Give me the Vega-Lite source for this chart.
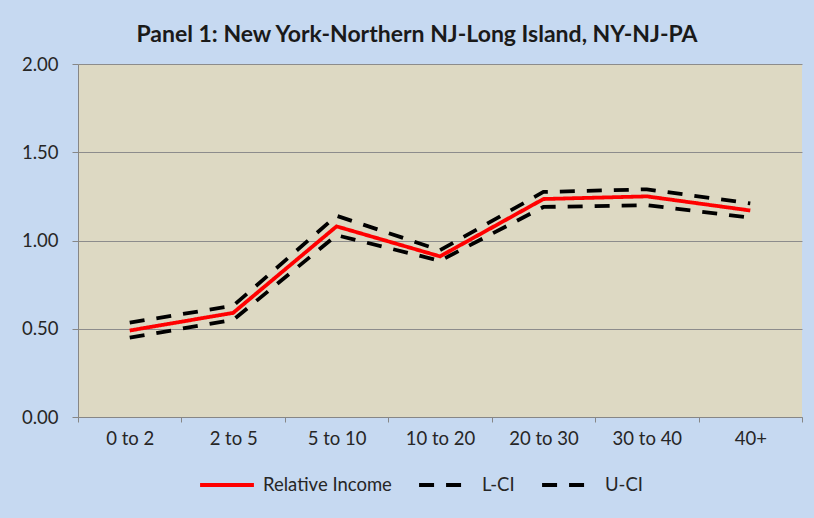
{
  "$schema": "https://vega.github.io/schema/vega-lite/v6.json",
  "width": 724,
  "height": 353,
  "autosize": "none",
  "padding": {"left": 78, "top": 64, "right": 12, "bottom": 101},
  "background": "#c6d9f1",
  "title": {
    "text": "Panel 1: New York-Northern NJ-Long Island, NY-NJ-PA",
    "font": "Lato",
    "fontSize": 23,
    "fontWeight": "bold",
    "color": "#1a1a1a",
    "anchor": "middle",
    "dx": -23,
    "offset": 8
  },
  "data": {
    "values": [
      {"range": "0 to 2", "series": "Relative Income", "value": 0.49},
      {"range": "2 to 5", "series": "Relative Income", "value": 0.59},
      {"range": "5 to 10", "series": "Relative Income", "value": 1.08},
      {"range": "10 to 20", "series": "Relative Income", "value": 0.91},
      {"range": "20 to 30", "series": "Relative Income", "value": 1.235},
      {"range": "30 to 40", "series": "Relative Income", "value": 1.25},
      {"range": "40+", "series": "Relative Income", "value": 1.17},
      {"range": "0 to 2", "series": "L-CI", "value": 0.45},
      {"range": "2 to 5", "series": "L-CI", "value": 0.55},
      {"range": "5 to 10", "series": "L-CI", "value": 1.03},
      {"range": "10 to 20", "series": "L-CI", "value": 0.885},
      {"range": "20 to 30", "series": "L-CI", "value": 1.19},
      {"range": "30 to 40", "series": "L-CI", "value": 1.2},
      {"range": "40+", "series": "L-CI", "value": 1.13},
      {"range": "0 to 2", "series": "U-CI", "value": 0.535},
      {"range": "2 to 5", "series": "U-CI", "value": 0.63},
      {"range": "5 to 10", "series": "U-CI", "value": 1.14},
      {"range": "10 to 20", "series": "U-CI", "value": 0.945},
      {"range": "20 to 30", "series": "U-CI", "value": 1.275},
      {"range": "30 to 40", "series": "U-CI", "value": 1.29},
      {"range": "40+", "series": "U-CI", "value": 1.21}
    ]
  },
  "mark": {"type": "line", "strokeWidth": 3.8},
  "encoding": {
    "x": {
      "field": "range",
      "type": "ordinal",
      "sort": ["0 to 2", "2 to 5", "5 to 10", "10 to 20", "20 to 30", "30 to 40", "40+"],
      "bandPosition": 0.5,
      "scale": {"type": "band", "paddingInner": 0, "paddingOuter": 0},
      "axis": {
        "title": null,
        "labelAngle": 0,
        "tickBand": "extent",
        "tickSize": 5,
        "tickColor": "#868686",
        "domainColor": "#868686",
        "labelPadding": 7,
        "labelFont": "Lato",
        "labelFontSize": 18.5,
        "labelColor": "#262626"
      }
    },
    "y": {
      "field": "value",
      "type": "quantitative",
      "scale": {"domain": [0, 2]},
      "axis": {
        "title": null,
        "values": [0, 0.5, 1, 1.5, 2],
        "format": ".2f",
        "grid": true,
        "gridColor": "#8c8c8c",
        "tickSize": 6,
        "tickColor": "#868686",
        "domainColor": "#868686",
        "labelPadding": 14,
        "labelFont": "Lato",
        "labelFontSize": 18.5,
        "labelColor": "#262626"
      }
    },
    "color": {
      "field": "series",
      "type": "nominal",
      "sort": ["Relative Income", "L-CI", "U-CI"],
      "scale": {"domain": ["Relative Income", "L-CI", "U-CI"], "range": ["#ff0000", "#000000", "#000000"]},
      "legend": {"title": null}
    },
    "strokeDash": {
      "field": "series",
      "type": "nominal",
      "sort": ["Relative Income", "L-CI", "U-CI"],
      "scale": {"domain": ["Relative Income", "L-CI", "U-CI"], "range": [[1, 0], [15, 12], [15, 12]]},
      "legend": {"title": null}
    }
  },
  "config": {
    "view": {"fill": "#ddd9c3", "stroke": null},
    "legend": {
      "orient": "none",
      "legendX": 120,
      "legendY": 392,
      "direction": "horizontal",
      "gridAlign": "none",
      "symbolType": "stroke",
      "symbolSize": 2900,
      "symbolStrokeWidth": 3.8,
      "labelFont": "Lato",
      "labelFontSize": 18.5,
      "labelColor": "#262626",
      "labelOffset": 7,
      "columnPadding": 19
    }
  }
}
